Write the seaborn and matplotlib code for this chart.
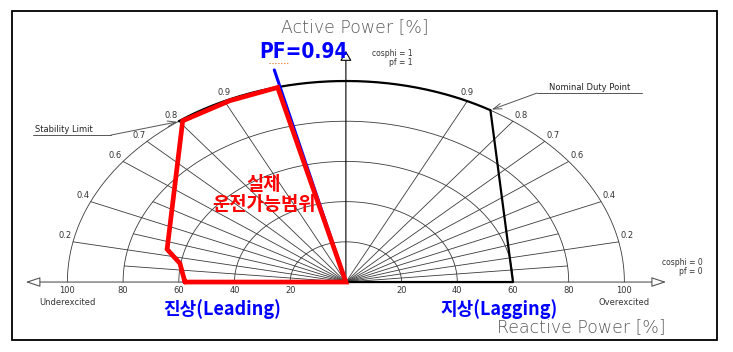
import numpy as np
import matplotlib
matplotlib.use("Agg")
import matplotlib.pyplot as plt
import seaborn as sns
from matplotlib.patches import Rectangle

# grid of the capability chart
arc_radii = [20, 40, 60, 80, 100]
pf_lines = [0.1, 0.2, 0.3, 0.4, 0.5, 0.6, 0.7, 0.8, 0.9]
pf_labels = [0.2, 0.4, 0.6, 0.7, 0.8, 0.9]
q_ticks = [-100, -80, -60, -40, -20, 20, 40, 60, 80, 100]

# original capability curve (black)
stability_pf = 0.8      # leading side, stability limit
duty_pf = 0.855         # lagging side, nominal duty point
cap_q = [51.9, 60, -57.8]
cap_p = [85.5, 0, 0]

# actual operating range (red)
red_q = [-57.8, -59.6, -64.2, -58.6, -41.7, -24.5, 0, -57.8]
red_p = [0, 9.3, 16.3, 80.2, 90.2, 96.8, 0, 0]

# PF=0.94 line (blue)
blue_q = [-25.7, 0]
blue_p = [105.5, 0]

sns.set_style("white")
plt.rcParams['font.family'] = ['DejaVu Sans']

fig = plt.figure(figsize=(7.33, 3.52), dpi=100)
ax = fig.add_axes([0, 0, 1, 1])
ax.set_xlim(-124.2, 139.0)
ax.set_ylim(-34.8, 140.3)
ax.axis('off')

grid = dict(color='#3a3a3a', lw=0.6, zorder=1)
t = np.linspace(0, np.pi, 300)
for r in arc_radii:
    ax.plot(r * np.cos(t), r * np.sin(t), **grid)
for pf in pf_lines:
    r = 100 if pf in pf_labels else 80
    s = np.sqrt(1 - pf ** 2)
    for side in (-1, 1):
        ax.plot([0, side * r * s], [0, r * pf], **grid)

# pf labels on the outer arc
for pf in pf_labels:
    s = np.sqrt(1 - pf ** 2)
    for side in (-1, 1):
        if pf == 0.9:
            ha, off = 'center', (0, 3)
        else:
            ha, off = ('left', (1, 1)) if side > 0 else ('right', (-1, 1))
        ax.annotate(f'{pf:.1f}', xy=(side * 100 * s, 100 * pf), xytext=off,
                    textcoords='offset points', ha=ha, va='bottom',
                    fontsize=6, color='#333333')

# axes with open arrow heads
ax.annotate('', xy=(-115, 0), xytext=(115, 0), zorder=1,
            arrowprops=dict(arrowstyle='<|-|>,head_length=0.9,head_width=0.3',
                            fc='white', ec='#555555', lw=0.8, shrinkA=0, shrinkB=0))
ax.annotate('', xy=(0, 115), xytext=(0, 0), zorder=1,
            arrowprops=dict(arrowstyle='-|>,head_length=0.6,head_width=0.35',
                            fc='white', ec='black', lw=0.8, shrinkA=0, shrinkB=0))

for q in q_ticks:
    ax.text(q, -1.8, str(abs(q)), ha='center', va='top', fontsize=6, color='#333333')
ax.text(-100, -10.4, 'Underexcited', ha='center', va='center', fontsize=6, color='#333333')
ax.text(100, -10.4, 'Overexcited', ha='center', va='center', fontsize=6, color='#333333')
ax.text(24, 111.2, 'cosphi = 1\npf = 1', ha='right', va='center', fontsize=5.5,
        color='#333333', linespacing=1.0)
ax.text(128.2, 7.7, 'cosphi = 0\npf = 0', ha='right', va='center', fontsize=5.5,
        color='#333333', linespacing=1.0)

# black capability curve
th_stab = np.arctan2(stability_pf, -np.sqrt(1 - stability_pf ** 2))
th_duty = np.arctan2(duty_pf, np.sqrt(1 - duty_pf ** 2))
ta = np.linspace(th_duty, th_stab, 200)
sns.lineplot(x=100 * np.cos(ta), y=100 * np.sin(ta), sort=False, estimator=None,
             color='black', lw=1.6, ax=ax)
sns.lineplot(x=cap_q, y=cap_p, sort=False, estimator=None, color='black', lw=1.6, ax=ax)

# leaders
lead = dict(color='#555555', lw=0.7)
ax.plot([-112.4, -84.4], [73.1, 73.1], **lead)
ax.annotate('', xy=(-60.5, 79.7), xytext=(-84.4, 73.1),
            arrowprops=dict(arrowstyle='->,head_length=0.6,head_width=0.2',
                            color='#555555', lw=0.7, shrinkA=0, shrinkB=0))
ax.text(-111.5, 75.8, 'Stability Limit', ha='left', va='center', fontsize=6, color='#222222')
ax.plot([68.6, 106.3], [94.0, 94.0], **lead)
ax.annotate('', xy=(52.4, 85.8), xytext=(68.6, 94.0),
            arrowprops=dict(arrowstyle='->,head_length=0.6,head_width=0.2',
                            color='#555555', lw=0.7, shrinkA=0, shrinkB=0))
ax.text(87.6, 96.9, 'Nominal Duty Point', ha='center', va='center', fontsize=6, color='#222222')

# blue PF line and red operating range
sns.lineplot(x=blue_q, y=blue_p, sort=False, estimator=None, color='#0000FF', lw=2.2, ax=ax)
sns.lineplot(x=red_q, y=red_p, sort=False, estimator=None, color='#FF0000', lw=3.4,
             solid_joinstyle='miter', ax=ax)

# titles
ax.text(3.2, 126.9, 'Active Power [%]', ha='center', va='center', fontsize=12.5,
        color='#5a5a5a', fontweight='light')
ax.text(84.7, -22.4, 'Reactive Power [%]', ha='center', va='center', fontsize=12.5,
        color='#5a5a5a', fontweight='light')

ax.text(-15.4, 114.4, 'PF=0.94', ha='center', va='center', fontsize=15,
        color='#0000FF', fontweight='bold', family=['DejaVu Sans'], fontstretch='condensed')
ax.plot([-27.6, -20.5], [109.2, 109.2], color='#E07020', lw=0.8, ls=':')
ax.text(-29.4, 43.6, '실제\n운전가능범위', ha='center', va='center', fontsize=13.5,
        color='#FF0000', fontweight='bold', family=['Noto Sans CJK KR'], linespacing=1.1)
ax.text(-44.5, -13.4, '진상(Leading)', ha='center', va='center', fontsize=13,
        color='#0000FF', fontweight='bold', family=['Noto Sans CJK KR'])
ax.text(54.9, -13.4, '지상(Lagging)', ha='center', va='center', fontsize=13,
        color='#0000FF', fontweight='bold', family=['Noto Sans CJK KR'])

ax.add_patch(Rectangle((0.0164, 0.0341), 0.9618, 0.9347, transform=ax.transAxes,
                       fill=False, ec='black', lw=1.3))

fig.savefig('out.png', dpi=100)
